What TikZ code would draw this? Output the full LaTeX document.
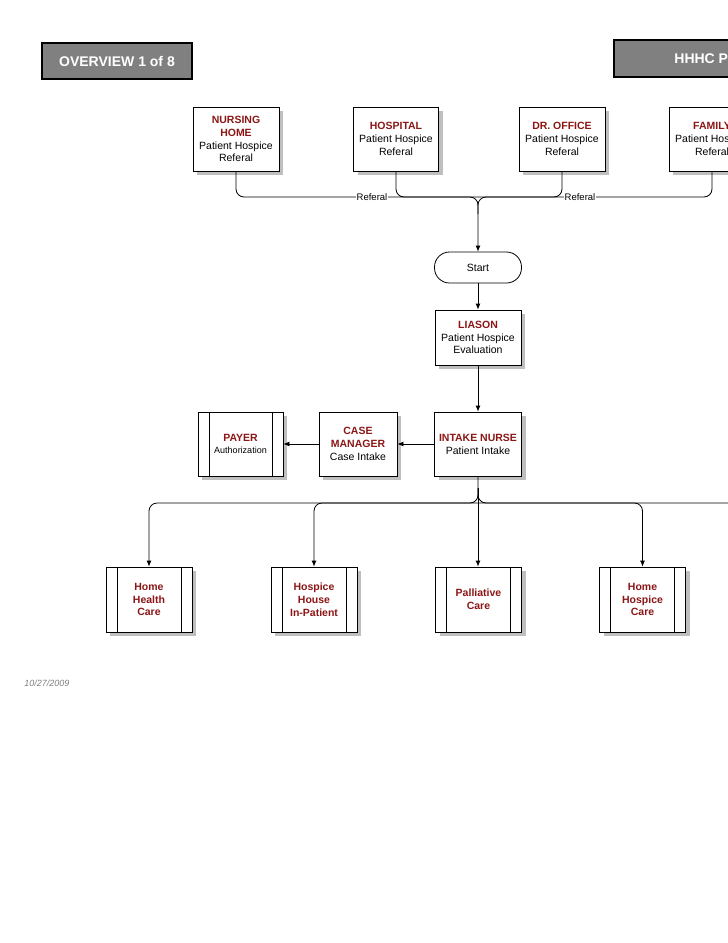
\documentclass[tikz,border=0pt]{standalone}
\usepackage{fontspec}
\setmainfont{Liberation Sans}
\usetikzlibrary{arrows.meta,shadows}
\definecolor{ttlred}{RGB}{140,22,22}
\definecolor{hdrgray}{RGB}{128,128,128}
\newcommand\boxtitle[1]{\textcolor{ttlred}{\textbf{#1}}}
\begin{document}
\begin{tikzpicture}[x=1pt,y=-1pt,
  line width=0.8pt,
  box/.style={draw, fill=white, line width=0.8pt, minimum width=86pt, minimum height=64pt,
    align=center, inner sep=1pt, font=\fontsize{10.5}{12.8}\selectfont,
    drop shadow={shadow xshift=4pt, shadow yshift=-4pt, fill=black!25, opacity=1}},
  procbox/.style={box, path picture={
    \draw[line width=0.8pt] ([xshift=11pt]path picture bounding box.north west) -- ([xshift=11pt]path picture bounding box.south west);
    \draw[line width=0.8pt] ([xshift=-11pt]path picture bounding box.north east) -- ([xshift=-11pt]path picture bounding box.south east);}},
  header/.style={draw=black, fill=hdrgray, line width=1.2pt, text=white,
    font=\fontsize{14}{16}\selectfont\bfseries},
  arr/.style={-{Latex[length=6pt,width=5pt]}, line width=0.8pt},
  lbl/.style={fill=white, inner sep=1pt, font=\fontsize{9.5}{11}\selectfont}
]
\useasboundingbox (0,0) rectangle (728,943);
\clip (0,0) rectangle (728,943);

% headers
\node[header, minimum width=150pt, minimum height=36pt] (ov) at (117,61) {OVERVIEW 1 of 8};
\node[header, minimum width=150pt, minimum height=37pt] (hh) at (689,58.5) {};
\node[anchor=west, text=white, font=\fontsize{14}{16}\selectfont\bfseries, inner sep=0pt] (hhtxt) at (674,59) {HHHC P};

% top row
\node[box] (nh) at (236,139) {\boxtitle{NURSING}\\\boxtitle{HOME}\\Patient Hospice\\Referal};
\node[box, minimum width=85pt] (hosp) at (396,139) {\boxtitle{HOSPITAL}\\Patient Hospice\\Referal};
\node[box] (dr) at (562,139) {\boxtitle{DR. OFFICE}\\Patient Hospice\\Referal};
\node[box] (fam) at (712,139) {\boxtitle{FAMILY}\\Patient Hospice\\Referal};

% start and flow
\node[draw, fill=white, rounded corners=15pt, minimum width=87pt, minimum height=31pt,
  font=\fontsize{10.5}{12.5}\selectfont] (start) at (478,267.5) {Start};
\node[box, minimum height=55pt] (lia) at (478,337.5) {\boxtitle{LIASON}\\Patient Hospice\\Evaluation};
\node[box, minimum width=87pt] (intake) at (478,444) {\boxtitle{INTAKE NURSE}\\Patient Intake};
\node[box, minimum width=78pt] (cm) at (358,444) {\boxtitle{CASE}\\\boxtitle{MANAGER}\\Case Intake};
\node[procbox, minimum width=85pt] (payer) at (240.5,444) {\boxtitle{PAYER}\\{\fontsize{9}{11}\selectfont Authorization}};

% bottom row
\node[procbox, minimum height=65pt] (hhc) at (149,599.5) {\boxtitle{Home}\\\boxtitle{Health}\\\boxtitle{Care}};
\node[procbox, minimum height=65pt] (hhi) at (314,599.5) {\boxtitle{Hospice}\\\boxtitle{House}\\\boxtitle{In-Patient}};
\node[procbox, minimum height=65pt] (pal) at (478.5,599.5) {\boxtitle{Palliative}\\\boxtitle{Care}};
\node[procbox, minimum height=65pt] (hhcare) at (642.5,599.5) {\boxtitle{Home}\\\boxtitle{Hospice}\\\boxtitle{Care}};
\coordinate (offright) at (808,599.5);

% top connectors
\coordinate (topbus) at (478,197);
\coordinate (topdown) at (478,214);
\draw[arr, rounded corners=8pt] (nh.south) |- (topbus) -- (start.north);
\draw[rounded corners=8pt] (hosp.south) |- (topbus);
\draw[rounded corners=8pt] (dr.south) |- (topbus);
\draw[rounded corners=8pt] (fam.south) |- (topbus) -- (topdown);
\node[lbl] (ref1) at (372,197) {Referal};
\node[lbl] (ref2) at (580,197) {Referal};

\draw[arr] (start.south) -- (lia.north);
\draw[arr] (lia.south) -- (intake.north);
\draw[arr] (intake.west) -- (cm.east);
\draw[arr] (cm.west) -- (payer.east);

% bottom connectors
\coordinate (botbus) at (478,503);
\coordinate (botup) at (478,488);
\draw[arr, rounded corners=8pt] (intake.south) |- (botbus -| hhc.north) -- (hhc.north);
\draw[arr, rounded corners=8pt] (botbus) -| (hhi.north);
\draw[arr] (botup) -- (intake.south |- pal.north);
\draw[arr, rounded corners=8pt] (botbus) -| (hhcare.north);
\draw[rounded corners=8pt] (botup) |- (botbus -| offright) -- (offright);

% date
\node[anchor=west, text=black!50, font=\fontsize{9}{11}\selectfont\itshape, inner sep=0pt] (date) at (24,683) {10/27/2009};
\end{tikzpicture}
\end{document}
